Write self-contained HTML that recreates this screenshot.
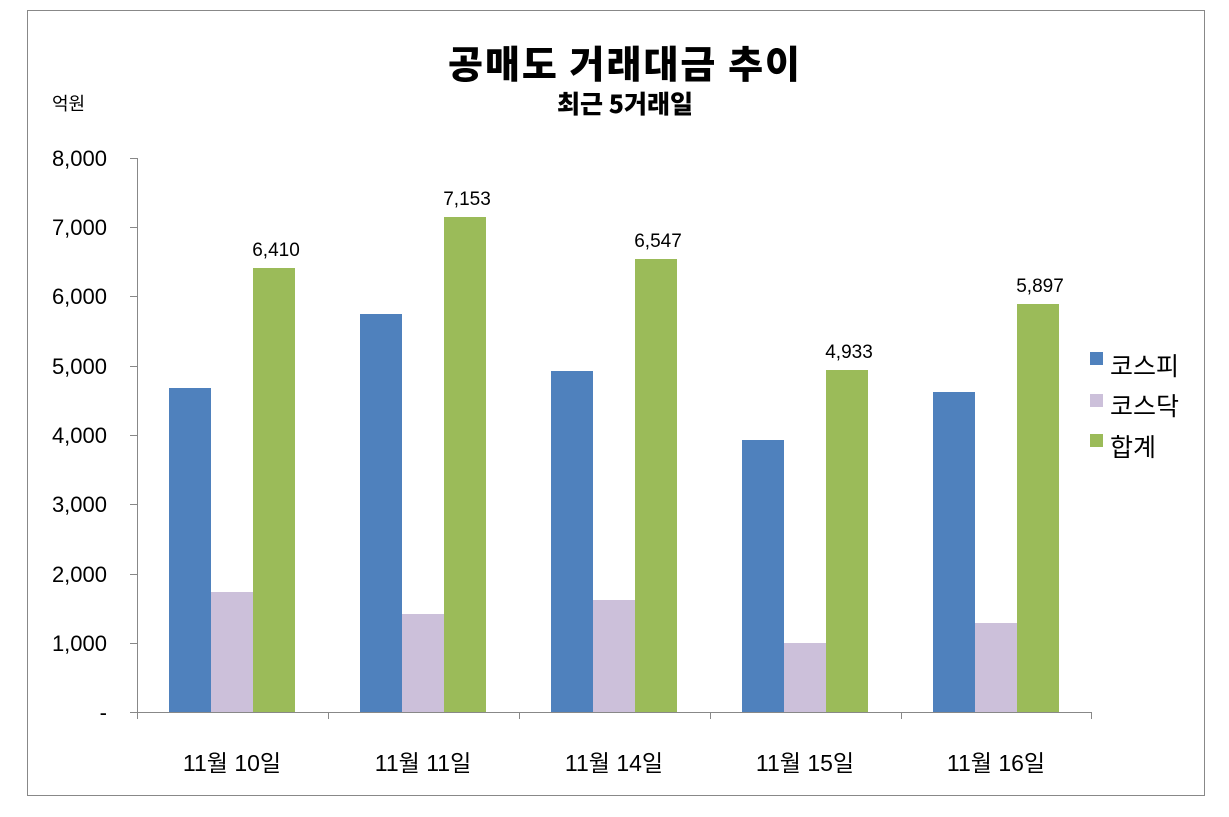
<!DOCTYPE html>
<html><head><meta charset="utf-8"><style>body{margin:0;background:#fff}svg{display:block}text{font-family:"Liberation Sans","Noto Sans CJK KR",sans-serif}</style></head>
<body>
<svg width="1229" height="817" xmlns="http://www.w3.org/2000/svg">
<rect x="27.5" y="10.5" width="1177" height="785" fill="#fff" stroke="#888" stroke-width="1"/>
<text x="624" y="78" text-anchor="middle" font-size="38" font-weight="900" textLength="352" style="font-family:'Noto Sans CJK KR',sans-serif">공매도 거래대금 추이</text>
<text x="625" y="113" text-anchor="middle" font-size="25" font-weight="900" style="font-family:'Noto Sans CJK KR',sans-serif">최근 5거래일</text>
<text x="52" y="110" font-size="18">억원</text>
<g stroke="#888" stroke-width="1">
<line x1="137.5" y1="158" x2="137.5" y2="713"/>
<line x1="137" y1="712.5" x2="1092" y2="712.5"/>
<line x1="130" y1="158.5" x2="137" y2="158.5"/><line x1="130" y1="227.5" x2="137" y2="227.5"/><line x1="130" y1="296.5" x2="137" y2="296.5"/><line x1="130" y1="366.5" x2="137" y2="366.5"/><line x1="130" y1="435.5" x2="137" y2="435.5"/><line x1="130" y1="504.5" x2="137" y2="504.5"/><line x1="130" y1="574.5" x2="137" y2="574.5"/><line x1="130" y1="643.5" x2="137" y2="643.5"/><line x1="130" y1="712.5" x2="137" y2="712.5"/>
<line x1="328.5" y1="712" x2="328.5" y2="719"/><line x1="519.5" y1="712" x2="519.5" y2="719"/><line x1="710.5" y1="712" x2="710.5" y2="719"/><line x1="901.5" y1="712" x2="901.5" y2="719"/><line x1="1091.5" y1="712" x2="1091.5" y2="719"/><line x1="137.5" y1="712" x2="137.5" y2="719"/>
</g>
<g font-size="22" text-anchor="end">
<text x="107" y="166">8,000</text><text x="107" y="235">7,000</text><text x="107" y="304">6,000</text><text x="107" y="374">5,000</text><text x="107" y="443">4,000</text><text x="107" y="512">3,000</text><text x="107" y="582">2,000</text><text x="107" y="651">1,000</text><text x="107" y="720">-</text>
</g>
<g>
<rect x="169" y="388" width="42" height="324" fill="#4f81bd"/><rect x="211" y="592" width="42" height="120" fill="#ccc0da"/><rect x="253" y="268" width="42" height="444" fill="#9bbb59"/>
<rect x="360" y="314" width="42" height="398" fill="#4f81bd"/><rect x="402" y="614" width="42" height="98" fill="#ccc0da"/><rect x="444" y="217" width="42" height="495" fill="#9bbb59"/>
<rect x="551" y="371" width="42" height="341" fill="#4f81bd"/><rect x="593" y="600" width="42" height="112" fill="#ccc0da"/><rect x="635" y="259" width="42" height="453" fill="#9bbb59"/>
<rect x="742" y="440" width="42" height="272" fill="#4f81bd"/><rect x="784" y="643" width="42" height="69" fill="#ccc0da"/><rect x="826" y="370" width="42" height="342" fill="#9bbb59"/>
<rect x="933" y="392" width="42" height="320" fill="#4f81bd"/><rect x="975" y="623" width="42" height="89" fill="#ccc0da"/><rect x="1017" y="304" width="42" height="408" fill="#9bbb59"/>
</g>
<g font-size="19" text-anchor="middle">
<text x="276" y="256">6,410</text><text x="467" y="205">7,153</text><text x="658" y="247">6,547</text><text x="849" y="358">4,933</text><text x="1040" y="292">5,897</text>
</g>
<g font-size="23" text-anchor="middle">
<text x="232" y="771">11월 10일</text><text x="423" y="771">11월 11일</text><text x="614" y="771">11월 14일</text><text x="805" y="771">11월 15일</text><text x="996" y="771">11월 16일</text>
</g>
<rect x="1090" y="352" width="13" height="13" fill="#4f81bd"/><text x="1110" y="375" font-size="25">코스피</text>
<rect x="1090" y="394" width="13" height="13" fill="#ccc0da"/><text x="1110" y="415" font-size="25">코스닥</text>
<rect x="1090" y="434" width="13" height="13" fill="#9bbb59"/><text x="1110" y="456" font-size="25">합계</text>
</svg>
</body></html>
